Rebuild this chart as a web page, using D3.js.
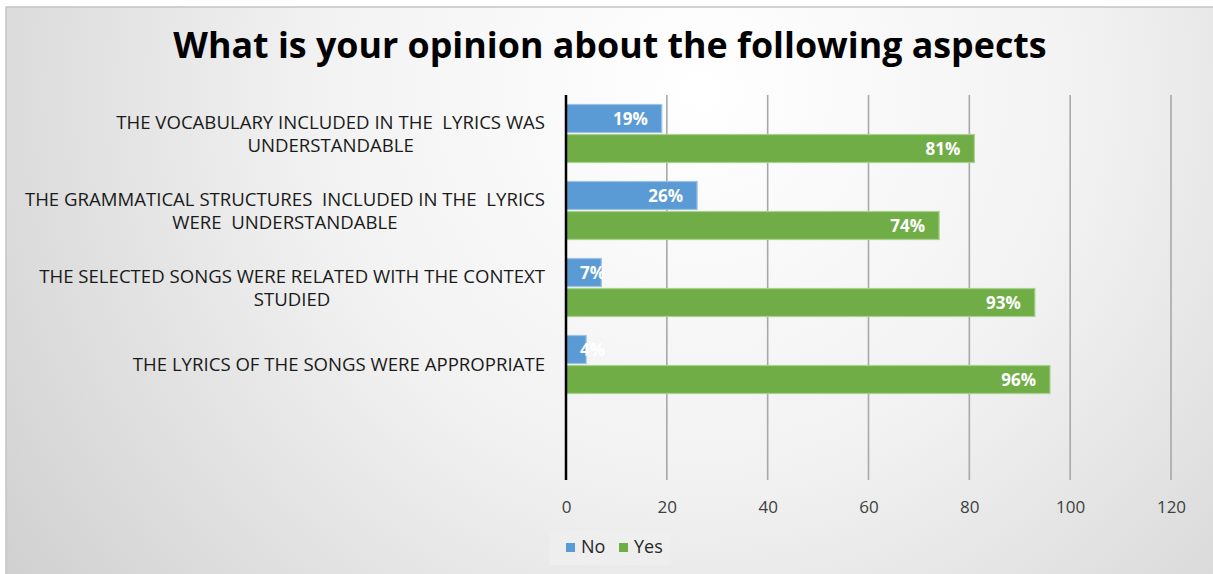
<!DOCTYPE html>
<html>
<head>
<meta charset="utf-8">
<script src="https://cdn.jsdelivr.net/npm/d3@7"></script>
<style>
  html, body { margin: 0; padding: 0; background: #ffffff; }
  svg { display: block; }
</style>
</head>
<body>
<svg id="chart" width="1213" height="574"></svg>
<script>
// Survey answers per statement (percent of respondents)
const categories = [
  ["THE VOCABULARY INCLUDED IN THE  LYRICS WAS", "UNDERSTANDABLE"],
  ["THE GRAMMATICAL STRUCTURES  INCLUDED IN THE  LYRICS", "WERE  UNDERSTANDABLE"],
  ["THE SELECTED SONGS WERE RELATED WITH THE CONTEXT", "STUDIED"],
  ["THE LYRICS OF THE SONGS WERE APPROPRIATE"]
];
const seriesNames = ["No", "Yes"];
const noValues  = [19, 26, 7, 4];
const yesValues = [81, 74, 93, 96];
const xTicks = [0, 20, 40, 60, 80, 100, 120];
const titleText = "What is your opinion about the following aspects";

const colors = { No: "#5b9bd5", Yes: "#70ad47" };
const strokes = { No: "#9cc3e6", Yes: "#a9d18e" };

const svg = d3.select("#chart");
const W = 1213, H = 574;
const FONT = "'Open Sans', sans-serif";

// background panel with soft radial shading
const defs = svg.append("defs");
const grad = defs.append("radialGradient")
  .attr("id", "bg").attr("gradientUnits", "userSpaceOnUse")
  .attr("cx", 700).attr("cy", 90).attr("r", 850);
grad.append("stop").attr("offset", "0%").attr("stop-color", "#ffffff");
grad.append("stop").attr("offset", "45%").attr("stop-color", "#f2f2f2");
grad.append("stop").attr("offset", "100%").attr("stop-color", "#d0d0d0");

svg.append("rect").attr("x", 6).attr("y", 7).attr("width", W).attr("height", H)
  .attr("fill", "url(#bg)").attr("stroke", "#c4c4c4").attr("stroke-width", 1.5);

// plot area
const plot = { left: 566, right: 1171, top: 95, bottom: 480 };

const x = d3.scaleLinear().domain([0, 120]).range([plot.left, plot.right]);
// one extra empty slot at the bottom of the category axis
const y = d3.scaleBand().domain(d3.range(categories.length + 1))
  .range([plot.top, plot.bottom]).paddingInner(0).paddingOuter(0);

const barH = 28, barGap = 2;

// gridlines
svg.append("g").selectAll("line").data(xTicks.filter(t => t > 0)).join("line")
  .attr("x1", d => x(d)).attr("x2", d => x(d))
  .attr("y1", plot.top).attr("y2", plot.bottom)
  .attr("stroke", "#a8a8a8").attr("stroke-width", 1.6);

// x axis tick labels
const xAxis = d3.axisBottom(x).tickValues(xTicks).tickSize(0).tickPadding(0);
const gx = svg.append("g").attr("transform", `translate(0,${plot.bottom})`).call(xAxis);
gx.select(".domain").remove();
gx.selectAll("text")
  .attr("dy", 0).attr("y", 33)
  .style("font-family", FONT)
  .style("font-size", "17px").attr("fill", "#404040");

// bars
const rows = categories.map((c, i) => ({ i, No: noValues[i], Yes: yesValues[i] }));
const groups = svg.append("g").selectAll("g").data(rows).join("g");

seriesNames.forEach((s, k) => {
  const yOff = r => y(r.i) + y.bandwidth() / 2 - barH - barGap / 2 + k * (barH + barGap);
  groups.append("rect")
    .attr("x", x(0))
    .attr("y", r => yOff(r))
    .attr("width", r => x(r[s]) - x(0))
    .attr("height", barH)
    .attr("fill", colors[s])
    .attr("stroke", strokes[s]).attr("stroke-width", 1.2);
  groups.append("text")
    .attr("x", r => Math.max(x(r[s]) - 14, x(0) + 39))
    .attr("y", r => yOff(r) + barH / 2)
    .attr("dy", "0.36em")
    .attr("text-anchor", "end")
    .style("font-family", FONT)
    .style("font-weight", "bold").style("font-size", "17px")
    .attr("fill", "#ffffff")
    .text(r => r[s] + "%");
});

// value axis line at zero
svg.append("line")
  .attr("x1", x(0)).attr("x2", x(0))
  .attr("y1", plot.top).attr("y2", plot.bottom)
  .attr("stroke", "#000000").attr("stroke-width", 2.5);

// category labels (wrapped, lines centred on the first line)
const labelRight = 545, lineH = 23, catSize = "18.6px";
categories.forEach((lines, i) => {
  const cy = y(i) + y.bandwidth() / 2;
  const g = svg.append("g");
  const first = g.append("text")
    .attr("x", labelRight)
    .attr("y", cy - (lines.length - 1) * lineH / 2)
    .attr("dy", "0.36em").attr("text-anchor", "end")
    .style("font-family", FONT)
    .style("font-size", catSize).attr("fill", "#1a1a1a")
    .style("white-space", "pre")
    .text(lines[0]);
  const w = first.node().getComputedTextLength();
  const mid = labelRight - w / 2;
  lines.slice(1).forEach((ln, j) => {
    g.append("text")
      .attr("x", mid)
      .attr("y", cy - (lines.length - 1) * lineH / 2 + (j + 1) * lineH)
      .attr("dy", "0.36em").attr("text-anchor", "middle")
      .style("font-family", FONT)
      .style("font-size", catSize).attr("fill", "#1a1a1a")
      .style("white-space", "pre")
      .text(ln);
  });
});

// title
svg.append("text")
  .attr("x", 610).attr("y", 45).attr("dy", "0.36em")
  .attr("text-anchor", "middle")
  .style("font-family", FONT)
  .style("font-weight", "bold").style("font-size", "35.8px")
  .attr("fill", "#000000")
  .text(titleText);

// legend
const legend = svg.append("g");
legend.append("rect").attr("x", 549).attr("y", 531).attr("width", 122).attr("height", 34)
  .attr("fill", "#efefef").attr("opacity", 0.75);
const legX = [566, 619];
seriesNames.forEach((s, k) => {
  legend.append("rect").attr("x", legX[k]).attr("y", 543).attr("width", 9).attr("height", 9)
    .attr("fill", colors[s]);
  legend.append("text").attr("x", legX[k] + 15).attr("y", 547).attr("dy", "0.36em")
    .style("font-family", FONT).style("font-size", "18px")
    .attr("fill", "#262626").text(s);
});
</script>
</body>
</html>
